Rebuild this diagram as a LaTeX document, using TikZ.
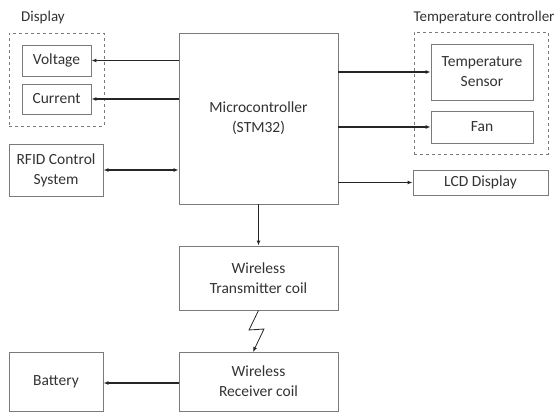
\documentclass[tikz,border=0pt]{standalone}
\usepackage{fontspec}
\setmainfont{Carlito}
\usetikzlibrary{arrows.meta}
\definecolor{txt}{HTML}{333333}
\definecolor{edge}{HTML}{7A7A7A}
\tikzset{
  blk/.style={draw=edge, line width=0.9pt, fill=white, text=txt, align=center, inner sep=0pt, font=\fontsize{15.5}{20}\selectfont},
  grp/.style={draw=edge, dashed, line width=0.8pt, inner sep=0pt},
  lbl/.style={text=txt, font=\fontsize{15}{18}\selectfont, inner sep=0pt},
  arr/.style={draw=black!85, line width=1.1pt, -{Latex[length=5pt,width=4pt]}},
  darr/.style={draw=black!85, line width=1.1pt, {Latex[length=5pt,width=4pt]}-{Latex[length=5pt,width=4pt]}}
}
\begin{document}
\begin{tikzpicture}[x=1pt,y=-1pt]
\useasboundingbox (0,0) rectangle (557,414);
% groups
\node[grp, minimum width=95pt, minimum height=93pt] (dispg) at (56.5,79.5) {};
\node[grp, minimum width=134pt, minimum height=122pt] (tcg) at (481,93) {};
\node[lbl] (displbl) at (43,18) {Display};
\node[lbl] (tclbl) at (484,18) {Temperature controller};
% blocks
\node[blk, minimum width=69pt, minimum height=31pt] (vol) at (56.5,60.5) {Voltage};
\node[blk, minimum width=69pt, minimum height=30pt] (cur) at (56.5,99) {Current};
\node[blk, minimum width=159pt, minimum height=171pt] (mc) at (258.5,118.5) {Microcontroller\\(STM32)};
\node[blk, minimum width=94pt, minimum height=52pt] (rfid) at (56,170) {RFID Control\\System};
\node[blk, minimum width=102pt, minimum height=56pt] (ts) at (482,72) {Temperature\\Sensor};
\node[blk, minimum width=102pt, minimum height=32pt] (fan) at (482,127) {Fan};
\node[blk, minimum width=135pt, minimum height=25pt] (lcd) at (480.5,182.5) {LCD Display};
\node[blk, minimum width=159pt, minimum height=64pt] (tx) at (258.5,278) {Wireless\\Transmitter coil};
\node[blk, minimum width=159pt, minimum height=59pt] (rx) at (258.5,381.5) {Wireless\\Receiver coil};
\node[blk, minimum width=94pt, minimum height=59pt] (bat) at (56,381.5) {Battery};
% connectors
\draw[arr] (mc.west |- vol.east) -- (vol.east);
\draw[arr] (mc.west |- cur.east) -- (cur.east);
\draw[darr] (rfid.east) -- (mc.west |- rfid.east);
\draw[arr] (mc.east |- ts.west) -- (ts.west);
\draw[arr] (mc.east |- fan.west) -- (fan.west);
\draw[arr] (mc.east |- lcd.west) -- (lcd.west);
\draw[arr] (mc.south) -- (tx.north);
\draw[arr] (rx.west |- 0,383) -- (bat.east |- 0,383);
% wireless link
\coordinate (z1) at (249,330);
\coordinate (z2) at (264,329);
\coordinate (z3) at (253,352);
\draw[draw=black!85, line width=0.8pt, -{Latex[length=5pt,width=4pt]}] (tx.south) -- (z1) -- (z2) -- (z3);
\end{tikzpicture}
\end{document}
